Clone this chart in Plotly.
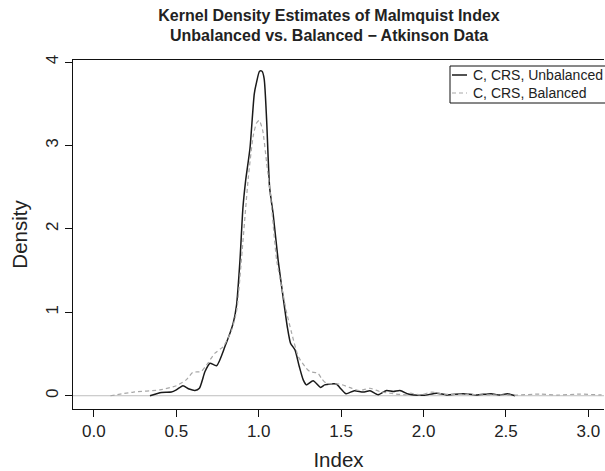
import plotly.graph_objects as go

# ---- data ----
unbal_x = [0.34, 0.41, 0.47, 0.50, 0.54, 0.578, 0.613, 0.64, 0.674, 0.704, 0.744, 0.795,
           0.845, 0.865, 0.886, 0.904, 0.92, 0.947, 0.973, 0.987, 1.005, 1.02, 1.033,
           1.048, 1.066, 1.088, 1.118, 1.155, 1.173, 1.193, 1.22, 1.246, 1.27, 1.29,
           1.33, 1.376, 1.40, 1.47, 1.50, 1.53, 1.58, 1.634, 1.675, 1.725, 1.776, 1.816,
           1.857, 1.907, 1.94, 2.00, 2.08, 2.14, 2.24, 2.32, 2.41, 2.46, 2.51, 2.555]
unbal_y = [0.0, 0.04, 0.044, 0.07, 0.12, 0.08, 0.063, 0.09, 0.29, 0.39, 0.36, 0.59,
           0.87, 1.08, 1.62, 2.25, 2.57, 2.97, 3.62, 3.76, 3.89, 3.89, 3.80,
           3.30, 2.50, 2.17, 1.62, 1.08, 0.83, 0.63, 0.55, 0.35, 0.19, 0.13,
           0.18, 0.10, 0.13, 0.14, 0.08, 0.024, 0.06, 0.044, 0.06, 0.012, 0.063, 0.05,
           0.063, 0.02, 0.01, 0.005, 0.03, 0.01, 0.025, 0.008, 0.025, 0.008, 0.025, 0.0]

bal_x = [0.10, 0.24, 0.40, 0.50, 0.56, 0.60, 0.65, 0.684, 0.734, 0.785, 0.836, 0.866,
         0.90, 0.937, 0.967, 0.987, 1.003, 1.024, 1.048, 1.072, 1.109, 1.14, 1.169,
         1.20, 1.24, 1.28, 1.31, 1.36, 1.38, 1.41, 1.49, 1.55, 1.61, 1.675, 1.735,
         1.816, 1.897, 1.92, 1.98, 2.05, 2.12, 2.26, 2.40, 2.565, 2.71, 2.81, 2.95,
         3.07, 3.15]
bal_y = [0.0, 0.044, 0.07, 0.12, 0.19, 0.28, 0.29, 0.37, 0.51, 0.59, 0.79, 1.02,
         1.75, 2.62, 3.12, 3.27, 3.30, 3.18, 2.79, 2.39, 1.62, 1.30, 1.00,
         0.75, 0.47, 0.35, 0.29, 0.27, 0.21, 0.15, 0.14, 0.10, 0.063, 0.09, 0.05,
         0.024, 0.012, 0.03, 0.01, 0.044, 0.02, 0.015, 0.01, 0.008, 0.02, 0.008, 0.02,
         0.01, 0.005]

series_names = ["C, CRS, Unbalanced", "C, CRS, Balanced"]
series_colors = ["#1a1a1a", "#a8a8a8"]
series_dash = ["solid", "4px,3px"]
series_width = [1.5, 1.2]
x_ticks = [0.0, 0.5, 1.0, 1.5, 2.0, 2.5, 3.0]
x_ticktext = ["0.0", "0.5", "1.0", "1.5", "2.0", "2.5", "3.0"]
y_ticks = [0, 1, 2, 3, 4]
title_line1 = "Kernel Density Estimates of Malmquist Index"
title_line2 = "Unbalanced vs. Balanced \u2212 Atkinson Data"

FONT = "Liberation Sans, Arial, Helvetica, sans-serif"
TXT = "#222222"

# plot-area geometry in pixels (for legend placement)
W, H = 605, 471
L, R, T, B = 73, 1, 60, 62
PW, PH = W - L - R, H - T - B


def px_x(px):
    return (px - L) / PW


def px_y(py):
    return (H - B - py) / PH


fig = go.Figure()
for xs, ys, nm, c, d, w in [(unbal_x, unbal_y, series_names[0], series_colors[0], series_dash[0], series_width[0]),
                            (bal_x, bal_y, series_names[1], series_colors[1], series_dash[1], series_width[1])]:
    fig.add_trace(go.Scatter(x=xs, y=ys, mode="lines", name=nm, showlegend=False,
                             line=dict(color=c, width=w, dash=d, shape="spline", smoothing=0.6)))

# horizontal reference line at 0
fig.add_shape(type="line", xref="paper", yref="y", x0=0, x1=1, y0=0, y1=0,
              line=dict(color="#bebebe", width=1), layer="below")

# legend (drawn as box + samples + text, like R's legend()); its right side runs off the page
fig.add_shape(type="rect", xref="paper", yref="paper",
              x0=px_x(450), x1=px_x(607), y0=px_y(103), y1=px_y(66),
              line=dict(color="#111111", width=1), fillcolor="white")
for i, (nm, c, d, w) in enumerate(zip(series_names, series_colors, series_dash, series_width)):
    yy = 75 + 18 * i
    fig.add_shape(type="line", xref="paper", yref="paper",
                  x0=px_x(452), x1=px_x(467), y0=px_y(yy), y1=px_y(yy),
                  line=dict(color=c, width=w, dash=d))
    fig.add_annotation(text=nm, xref="paper", yref="paper", x=px_x(471), y=px_y(yy),
                       xanchor="left", yanchor="middle", showarrow=False,
                       font=dict(size=14, color=TXT, family=FONT))

fig.update_layout(
    width=W, height=H,
    margin=dict(l=L, r=R, t=T, b=B),
    paper_bgcolor="white", plot_bgcolor="white",
    font=dict(family=FONT, color=TXT),
    title=dict(text="<b>" + title_line1 + "</b>", font=dict(size=16, color=TXT),
               xref="container", x=329 / W, xanchor="center",
               yref="container", y=1 - 15 / H, yanchor="middle"),
    showlegend=False,
    xaxis=dict(range=[-0.127, 3.095], tickvals=x_ticks, ticktext=x_ticktext,
               showline=True, mirror=True, linecolor="#111111", linewidth=1,
               ticks="outside", ticklen=7, tickcolor="#111111", showgrid=False,
               zeroline=False, tickfont=dict(size=17, color=TXT), automargin=False,
               title=dict(text="Index", font=dict(size=20.5, color=TXT), standoff=12)),
    yaxis=dict(range=[-0.159, 4.025], tickvals=y_ticks, tickangle=-90,
               showline=True, mirror=False, linecolor="#111111", linewidth=1,
               ticks="outside", ticklen=7, tickcolor="#111111", showgrid=False,
               zeroline=False, tickfont=dict(size=17, color=TXT), automargin=False,
               ticklabelstandoff=0,
               title=dict(text="Density", font=dict(size=20.5, color=TXT), standoff=10)),
)

fig.add_annotation(text="<b>" + title_line2 + "</b>", xref="paper", yref="paper",
                   x=px_x(329), y=px_y(36), xanchor="center", yanchor="middle",
                   showarrow=False, font=dict(size=16, color=TXT))

# remove the browser's default 8px page margin so the figure fills the window exactly
fig.write_html("out.html", config={"displayModeBar": False},
               post_script="document.body.style.margin='0px';")
